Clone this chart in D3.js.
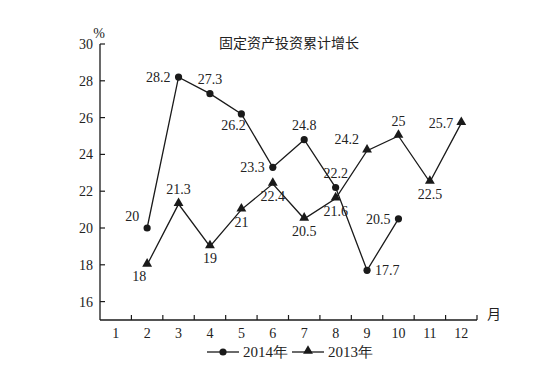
<!DOCTYPE html>
<html>
<head>
<meta charset="utf-8">
<script src="https://cdn.jsdelivr.net/npm/d3@7"></script>
<style>
  body { margin: 0; background: #fff; }
</style>
</head>
<body>
<svg width="553" height="384"></svg>
<script>
// data
const months = [1, 2, 3, 4, 5, 6, 7, 8, 9, 10, 11, 12];
const yTicks = [16, 18, 20, 22, 24, 26, 28, 30];
const months2014 = [2, 3, 4, 5, 6, 7, 8, 9, 10];
const values2014 = [20, 28.2, 27.3, 26.2, 23.3, 24.8, 22.2, 17.7, 20.5];
const months2013 = [2, 3, 4, 5, 6, 7, 8, 9, 10, 11, 12];
const values2013 = [18, 21.3, 19, 21, 22.4, 20.5, 21.6, 24.2, 25, 22.5, 25.7];
// where each value label sits relative to its point
const place2014 = ["upleft", "left", "above", "downleft", "left", "above", "above", "right", "left"];
const place2013 = ["downleft", "above", "below", "below", "below", "below", "below", "upleft", "above", "below", "left"];

const svg = d3.select("svg");
const plotLeft = 100, plotRight = 477, plotTop = 44, plotBottom = 320;
const serif = "'Liberation Serif', 'DejaVu Serif', serif";
const cjk = "'Noto Sans CJK SC', sans-serif";

const x = d3.scaleBand().domain(months).range([plotLeft, plotRight]);
const y = d3.scaleLinear().domain([15, 30]).range([plotBottom, plotTop]);
const cx = m => x(m) + x.bandwidth() / 2;

const ink = "#1a1a1a";

// title
svg.append("text")
  .attr("font-family", cjk)
  .attr("x", 289).attr("y", 48)
  .attr("text-anchor", "middle")
  .attr("font-size", 14).attr("fill", "#222")
  .text("固定资产投资累计增长");

// y axis
svg.append("line")
  .attr("x1", plotLeft).attr("x2", plotLeft)
  .attr("y1", y(30)).attr("y2", plotBottom)
  .attr("stroke", ink).attr("stroke-width", 1.3);
svg.selectAll(".ytick").data(yTicks).join("line")
  .attr("x1", plotLeft).attr("x2", plotLeft + 5)
  .attr("y1", d => y(d)).attr("y2", d => y(d))
  .attr("stroke", ink).attr("stroke-width", 1.2);
svg.selectAll(".ylab").data(yTicks).join("text")
  .attr("x", plotLeft - 7).attr("y", d => y(d) + 5)
  .attr("text-anchor", "end")
  .attr("font-family", serif).attr("font-size", 14).attr("fill", "#222")
  .text(d => d);
svg.append("text")
  .attr("x", plotLeft - 1).attr("y", 38)
  .attr("text-anchor", "middle")
  .attr("font-family", serif).attr("font-size", 14).attr("fill", "#222")
  .text("%");

// x axis
svg.append("line")
  .attr("x1", plotLeft).attr("x2", plotRight)
  .attr("y1", plotBottom).attr("y2", plotBottom)
  .attr("stroke", ink).attr("stroke-width", 1.3);
svg.selectAll(".xtick").data(months.slice(1).concat([13])).join("line")
  .attr("x1", d => d === 13 ? plotRight : x(d)).attr("x2", d => d === 13 ? plotRight : x(d))
  .attr("y1", plotBottom).attr("y2", plotBottom - 5)
  .attr("stroke", ink).attr("stroke-width", 1.2);
svg.selectAll(".xlab").data(months).join("text")
  .attr("x", d => cx(d)).attr("y", plotBottom + 18)
  .attr("text-anchor", "middle")
  .attr("font-family", serif).attr("font-size", 14).attr("fill", "#222")
  .text(d => d);
svg.append("text")
  .attr("font-family", cjk)
  .attr("x", plotRight + 10).attr("y", plotBottom - 1)
  .attr("font-size", 14).attr("fill", "#222")
  .text("月");

const line = d3.line().x(d => cx(d[0])).y(d => y(d[1]));
const pts2014 = months2014.map((m, i) => [m, values2014[i], place2014[i]]);
const pts2013 = months2013.map((m, i) => [m, values2013[i], place2013[i]]);

const tri = d3.symbol().type(d3.symbolTriangle).size(42);

function drawSeries(pts, marker) {
  svg.append("path").datum(pts)
    .attr("d", line)
    .attr("fill", "none").attr("stroke", ink).attr("stroke-width", 1.3);
  if (marker === "circle") {
    svg.selectAll(null).data(pts).join("circle")
      .attr("cx", d => cx(d[0])).attr("cy", d => y(d[1])).attr("r", 3.6)
      .attr("fill", ink);
  } else {
    svg.selectAll(null).data(pts).join("path")
      .attr("d", tri)
      .attr("transform", d => `translate(${cx(d[0])},${y(d[1]) - 1})`)
      .attr("fill", ink);
  }
  const off = {
    above: [0, -10, "middle"], below: [0, 17, "middle"],
    left: [-8, 5, "end"], right: [8, 5, "start"],
    upleft: [-8, -7, "end"], downleft: [-8, 16, "middle"]
  };
  svg.selectAll(null).data(pts).join("text")
    .attr("x", d => cx(d[0]) + off[d[2]][0])
    .attr("y", d => y(d[1]) + off[d[2]][1])
    .attr("text-anchor", d => off[d[2]][2])
    .attr("font-family", serif).attr("font-size", 14).attr("fill", "#222")
    .text(d => d[1]);
}
drawSeries(pts2014, "circle");
drawSeries(pts2013, "triangle");

// legend
const legend = [
  { name: "2014年", marker: "circle", x0: 207 },
  { name: "2013年", marker: "triangle", x0: 292 }
];
const ly = 352;
legend.forEach(l => {
  svg.append("line")
    .attr("x1", l.x0).attr("x2", l.x0 + 32)
    .attr("y1", ly).attr("y2", ly)
    .attr("stroke", ink).attr("stroke-width", 1.3);
  if (l.marker === "circle") {
    svg.append("circle").attr("cx", l.x0 + 16).attr("cy", ly).attr("r", 3.6).attr("fill", ink);
  } else {
    svg.append("path").attr("d", tri).attr("transform", `translate(${l.x0 + 16},${ly - 1})`).attr("fill", ink);
  }
  svg.append("text")
    .attr("x", l.x0 + 36).attr("y", ly + 5)
    .attr("font-family", serif).attr("font-size", 15).attr("fill", "#222")
    .text(l.name);
});
</script>
</body>
</html>
